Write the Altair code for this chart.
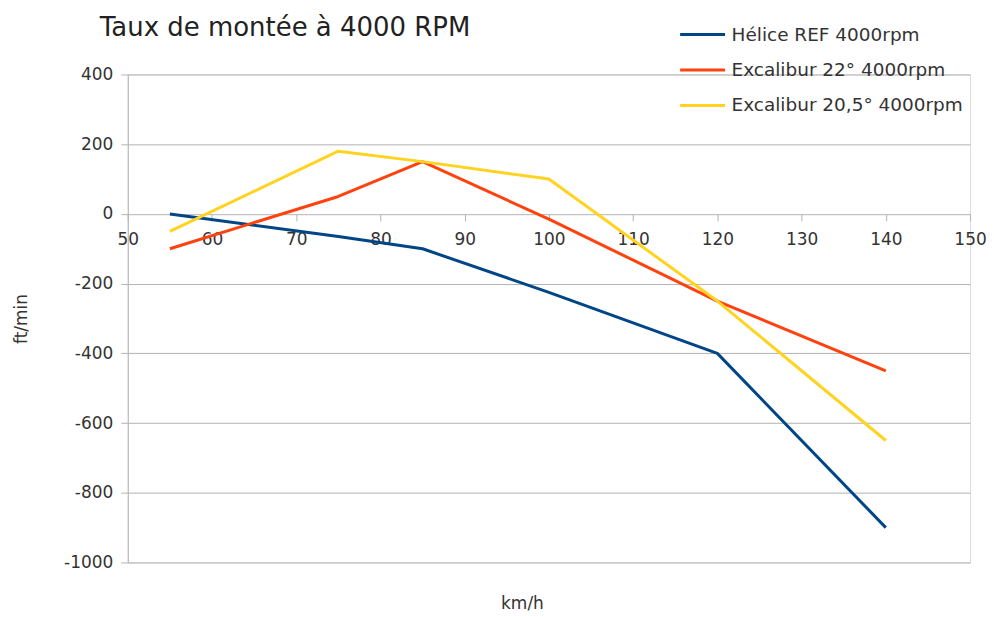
import altair as alt
import pandas as pd

speeds = [55, 75, 85, 100, 120, 140]
series_names = ["Hélice REF 4000rpm", "Excalibur 22° 4000rpm", "Excalibur 20,5° 4000rpm"]
helice_ref = [0, -65, -100, -225, -400, -900]
excalibur_22 = [-100, 50, 150, -15, -250, -450]
excalibur_205 = [-50, 180, 150, 100, -250, -650]
colors = ["#004586", "#ff420e", "#ffd320"]
x_ticks = [50, 60, 70, 80, 90, 100, 110, 120, 130, 140, 150]
y_ticks = [-1000, -800, -600, -400, -200, 0, 200, 400]

rows = []
for name, vals in zip(series_names, [helice_ref, excalibur_22, excalibur_205]):
    for i, (s, v) in enumerate(zip(speeds, vals)):
        rows.append({"speed": s, "rate": v, "series": name, "order": i})
df = pd.DataFrame(rows)

W, H = 844, 489
FONT = "DejaVu Sans"

chart = alt.Chart(df).mark_line(strokeWidth=3, strokeJoin="round").encode(
    x=alt.X("speed:Q",
            scale=alt.Scale(domain=[50, 150], nice=False, zero=False),
            axis=alt.Axis(values=x_ticks, title="km/h", grid=False, domain=False,
                          offset=-H * 1000 / 1400, tickSize=7, tickColor="#b3b3b3",
                          labelPadding=11, labelFontSize=17, labelColor="#333333",
                          labelFont=FONT, labelFlush=False,
                          labelExpr="datum.value + ''",
                          titleFont=FONT, titleFontSize=17, titleFontWeight="normal",
                          titleColor="#333333", titleX=395, titleY=390,
                          titleBaseline="middle", titleAlign="center")),
    y=alt.Y("rate:Q",
            scale=alt.Scale(domain=[-1000, 400], nice=False),
            axis=alt.Axis(values=y_ticks, title="ft/min", grid=True, gridColor="#b3b3b3",
                          domainColor="#b3b3b3", tickColor="#b3b3b3", tickSize=7,
                          labelPadding=8, labelFontSize=17, labelColor="#333333",
                          labelFont=FONT, labelFlush=False,
                          labelExpr="datum.value + ''",
                          titleFont=FONT, titleFontSize=17, titleFontWeight="normal",
                          titleColor="#333333", titleX=-106, titleY=H / 2,
                          titleAngle=-90, titleBaseline="middle", titleAlign="center")),
    color=alt.Color("series:N",
                    scale=alt.Scale(domain=series_names, range=colors),
                    legend=alt.Legend(title=None, orient="none", legendX=552, legendY=-50,
                                      symbolType="stroke", symbolSize=2025,
                                      symbolStrokeWidth=3, clipHeight=20, rowPadding=15.5,
                                      labelOffset=5, labelFontSize=18.5, labelFont=FONT,
                                      labelColor="#333333", labelLimit=400)),
    order="order:Q",
).properties(
    width=W, height=H,
    title=alt.TitleParams("Taux de montée à 4000 RPM", anchor="start", frame="group",
                          dx=-28, offset=-16, fontSize=26, font=FONT,
                          fontWeight="normal", color="#222222"),
    autosize=alt.AutoSizeParams(type="none"),
    padding={"left": 120, "top": 66, "right": 16, "bottom": 50},
).configure_view(stroke="#b3b3b3").configure(background="white")

chart.save("out.html", embed_options={"renderer": "svg", "actions": False})
